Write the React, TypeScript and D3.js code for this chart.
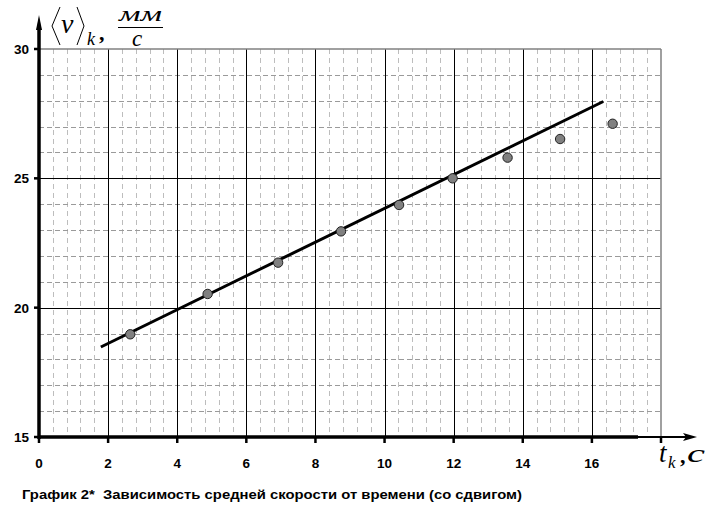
import React from "react";
import * as d3 from "d3";

const tValues = [2.64, 4.88, 6.92, 8.74, 10.42, 11.97, 13.56, 15.08, 16.6];
const vValues = [18.97, 20.53, 21.74, 22.95, 23.97, 25.0, 25.8, 26.52, 27.11];
const fitLineT = [1.79, 16.33];
const fitLineV = [18.48, 27.97];
const xTickValues = [0, 2, 4, 6, 8, 10, 12, 14, 16];
const yTickValues = [15, 20, 25, 30];
const caption = "График 2*  Зависимость средней скорости от времени (со сдвигом)";

const W = 717;
const H = 508;

export default function App() {
  const x = d3.scaleLinear().domain([0, 18]).range([39, 661]);
  const y = d3.scaleLinear().domain([15, 30]).range([437, 49]);

  const minorX = d3.range(1, 45).map((i) => i * 0.4).filter((v) => Math.abs(v / 2 - Math.round(v / 2)) > 1e-6);
  const minorY = d3.range(16, 30).filter((v) => v % 5 !== 0);
  const majorX = [2, 4, 6, 8, 10, 12, 14, 16];
  const majorY = [20, 25];

  const line = d3
    .line<number>()
    .x((d, i) => x(fitLineT[i]))
    .y((d, i) => y(fitLineV[i]));

  const font = "'Liberation Sans', Arial, sans-serif";
  const serif = "'Liberation Serif', 'Times New Roman', serif";

  return (
    <svg
      width={W}
      height={H}
      style={{ position: "absolute", left: 0, top: 0, background: "#fff" }}
    >
      <rect width={W} height={H} fill="#fff" />
      {/* minor vertical dashed */}
      {minorX.map((t) => (
        <line
          key={"mx" + t}
          x1={Math.round(x(t)) + 0.5}
          x2={Math.round(x(t)) + 0.5}
          y1={y(30)}
          y2={y(15)}
          stroke="#bdbdbd"
          strokeWidth={1}
          strokeDasharray="5,4"
        />
      ))}
      {/* minor horizontal dashed */}
      {minorY.map((v) => (
        <line
          key={"my" + v}
          x1={x(0)}
          x2={x(18)}
          y1={Math.round(y(v)) + 0.5}
          y2={Math.round(y(v)) + 0.5}
          stroke="#9a9a9a"
          strokeWidth={1}
          strokeDasharray="5,3"
        />
      ))}
      {/* major vertical */}
      {majorX.map((t) => (
        <line
          key={"Mx" + t}
          x1={Math.round(x(t)) + 0.5}
          x2={Math.round(x(t)) + 0.5}
          y1={y(30)}
          y2={y(15)}
          stroke="#000"
          strokeWidth={1}
        />
      ))}
      {/* major horizontal */}
      {majorY.map((v) => (
        <line
          key={"My" + v}
          x1={x(0)}
          x2={x(18)}
          y1={Math.round(y(v)) + 0.5}
          y2={Math.round(y(v)) + 0.5}
          stroke="#000"
          strokeWidth={1}
        />
      ))}
      {/* top and right border */}
      <line x1={x(0)} x2={x(18)} y1={y(30)} y2={y(30)} stroke="#808080" strokeWidth={1.5} />
      <line x1={x(18)} x2={x(18)} y1={y(30)} y2={y(15)} stroke="#808080" strokeWidth={1.5} />

      {/* fit line */}
      <path d={line(fitLineT) || ""} fill="none" stroke="#000" strokeWidth={3} />

      {/* points */}
      {tValues.map((t, i) => (
        <circle
          key={"p" + i}
          cx={x(t)}
          cy={y(vValues[i])}
          r={4.7}
          fill="#808080"
          stroke="#222"
          strokeWidth={1}
        />
      ))}

      {/* x axis */}
      <line x1={x(0)} x2={638} y1={y(15)} y2={y(15)} stroke="#000" strokeWidth={3.5} />
      <line x1={638} x2={690} y1={y(15)} y2={y(15)} stroke="#000" strokeWidth={2} />
      <path d={`M697,${y(15)} L683,${y(15) - 4} L686,${y(15)} L683,${y(15) + 4} Z`} fill="#000" />
      {/* y axis */}
      <line x1={x(0)} x2={x(0)} y1={y(15) + 2} y2={26} stroke="#000" strokeWidth={3.5} />
      <path d={`M${x(0)},15 L${x(0) - 3},30 L${x(0) + 3},30 Z`} fill="#000" />

      {/* x ticks */}
      {[...xTickValues, 18].map((t) => (
        <line
          key={"xt" + t}
          x1={x(t)}
          x2={x(t)}
          y1={y(15)}
          y2={y(15) + 6}
          stroke="#000"
          strokeWidth={2.5}
        />
      ))}
      {xTickValues.map((t) => (
        <text
          key={"xl" + t}
          x={x(t)}
          y={468}
          textAnchor="middle"
          fontFamily={font}
          fontWeight="bold"
          fontSize={13.5}
        >
          {t}
        </text>
      ))}
      {/* y ticks */}
      {yTickValues.map((v) => (
        <line
          key={"yt" + v}
          x1={x(0) - 5}
          x2={x(0)}
          y1={y(v)}
          y2={y(v)}
          stroke="#000"
          strokeWidth={2.5}
        />
      ))}
      {yTickValues.map((v) => (
        <text
          key={"yl" + v}
          x={29}
          y={y(v) + 5}
          textAnchor="end"
          fontFamily={font}
          fontWeight="bold"
          fontSize={13.5}
        >
          {v}
        </text>
      ))}

      {/* y axis label */}
      <path d="M60,7 L52,26 L60,45" fill="none" stroke="#000" strokeWidth={1} />
      <path d="M77,7 L84,26 L77,45" fill="none" stroke="#000" strokeWidth={1} />
      <text x={61} y={33} fontFamily={serif} fontStyle="italic" fontSize={28}>
        v
      </text>
      <text x={87} y={45} fontFamily={serif} fontStyle="italic" fontSize={18}>
        k
      </text>
      <text x={99} y={40} fontFamily={serif} fontSize={22} fontWeight="bold">
        ,
      </text>
      <text
        x={119}
        y={21}
        fontFamily={serif}
        fontStyle="italic"
        fontSize={22}
        textLength={43}
        lengthAdjust="spacingAndGlyphs"
      >
        мм
      </text>
      <line x1={118} x2={163} y1={27.5} y2={27.5} stroke="#000" strokeWidth={1} />
      <text x={132} y={46} fontFamily={serif} fontStyle="italic" fontSize={23}>
        с
      </text>

      {/* x axis label */}
      <text x={659} y={462} fontFamily={serif} fontStyle="italic" fontSize={27}>
        t
      </text>
      <text x={668} y={468} fontFamily={serif} fontStyle="italic" fontSize={17}>
        k
      </text>
      <text x={680} y={463} fontFamily={serif} fontSize={22} fontWeight="bold">
        ,
      </text>
      <text
        x={687}
        y={462}
        fontFamily={serif}
        fontStyle="italic"
        fontSize={25}
        textLength={18}
        lengthAdjust="spacingAndGlyphs"
      >
        с
      </text>

      {/* caption */}
      <text
        x={22}
        y={499}
        fontFamily={font}
        fontWeight="bold"
        fontSize={13.5}
        textLength={500}
        lengthAdjust="spacingAndGlyphs"
        style={{ whiteSpace: "pre" }}
      >
        {caption}
      </text>
    </svg>
  );
}
